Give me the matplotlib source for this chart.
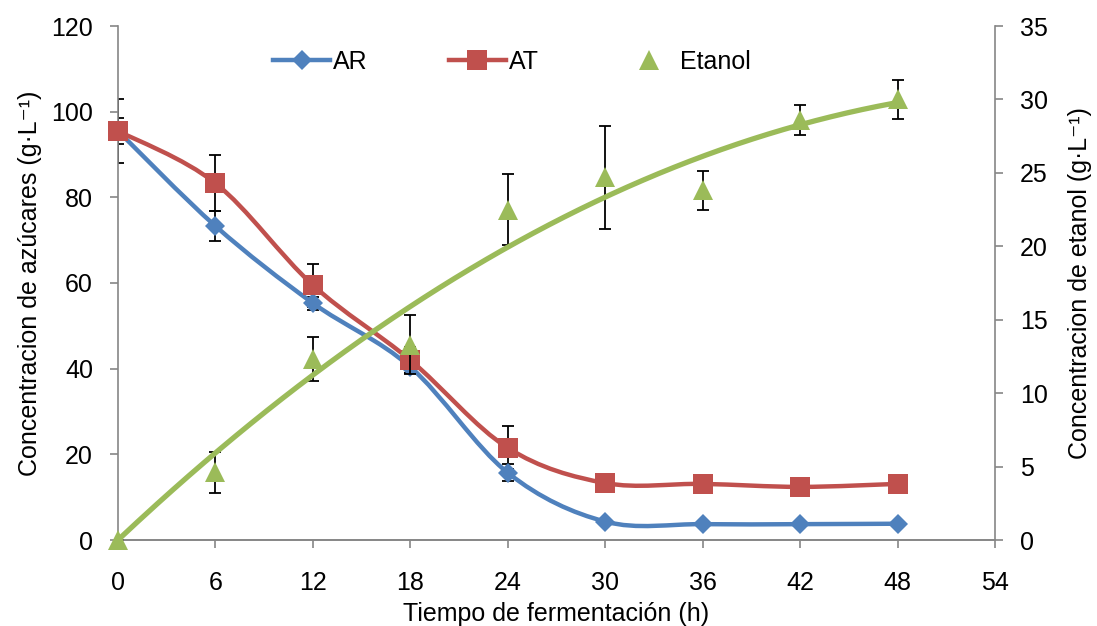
import matplotlib.pyplot as plt
import numpy as np
from matplotlib.lines import Line2D
from matplotlib.path import Path
from matplotlib.patches import PathPatch

plt.rcParams["font.family"] = ["Liberation Sans", "DejaVu Sans"]

# fermentation time (h)
tiempo = [0, 6, 12, 18, 24, 30, 36, 42, 48]

# reducing sugars and total sugars (g/L)
ar = [95.5, 73.3, 55.3, 40.4, 15.7, 4.3, 3.7, 3.7, 3.8]
ar_err = [3.0, 3.6, 1.5, 1.5, 2.0, 0.4, 0.3, 0.3, 0.3]
at = [95.5, 83.3, 59.5, 42.0, 21.5, 13.3, 13.1, 12.4, 13.1]
at_err = [7.4, 6.6, 5.0, 3.0, 5.0, 0.5, 0.5, 0.5, 0.5]

# ethanol (g/L)
etanol = [0.0, 4.6, 12.3, 13.3, 22.5, 24.7, 23.8, 28.6, 30.0]
etanol_err = [0.0, 1.4, 1.5, 2.0, 2.4, 3.5, 1.3, 1.05, 1.35]

BLUE = "#4F81BD"
RED = "#C0504D"
GREEN = "#9BBB59"
AXIS_GREY = "#868686"
FS = 18


def smooth_path(x, y):
    """Cubic Bezier path through the points (spreadsheet-style smoothed line)."""
    pts = np.column_stack([x, y]).astype(float)
    n = len(pts)
    verts = [pts[0]]
    codes = [Path.MOVETO]
    for i in range(n - 1):
        p0 = pts[max(i - 1, 0)]
        p1 = pts[i]
        p2 = pts[i + 1]
        p3 = pts[min(i + 2, n - 1)]
        c1 = p1 + (p2 - p0) / 6.0
        c2 = p2 - (p3 - p1) / 6.0
        verts += [c1, c2, p2]
        codes += [Path.CURVE4] * 3
    return Path(verts, codes)


fig, ax = plt.subplots(figsize=(10.97, 6.26), dpi=100)
fig.subplots_adjust(left=118 / 1097, right=995 / 1097, bottom=1 - 540 / 626, top=1 - 26 / 626)
ax2 = ax.twinx()

# sugars on the left axis
for vals, errs, color, marker, ms in [(ar, ar_err, BLUE, "D", 10.5), (at, at_err, RED, "s", 14.5)]:
    ax.errorbar(tiempo, vals, yerr=errs, fmt="none", ecolor="black", elinewidth=1.3,
                capsize=4.5, capthick=1.3, zorder=2)
    ax.add_patch(PathPatch(smooth_path(tiempo, vals), facecolor="none", edgecolor=color,
                           linewidth=3.2, capstyle="round", zorder=3))
    ax.plot(tiempo, vals, linestyle="none", marker=marker, markersize=ms, color=color,
            markeredgewidth=0, zorder=4, clip_on=False)

# ethanol on the right axis with a quadratic trend through the origin
t_arr = np.array(tiempo, dtype=float)
e_arr = np.array(etanol, dtype=float)
design = np.column_stack([t_arr, t_arr ** 2])
coef, *_ = np.linalg.lstsq(design, e_arr, rcond=None)
t_fit = np.linspace(0, 48, 200)
ax2.plot(t_fit, coef[0] * t_fit + coef[1] * t_fit ** 2, color=GREEN, linewidth=3.8,
         solid_capstyle="butt", zorder=3)
ax2.errorbar(tiempo, etanol, yerr=etanol_err, fmt="none", ecolor="black", elinewidth=1.3,
             capsize=4.5, capthick=1.3, zorder=2)
ax2.plot(tiempo, etanol, linestyle="none", marker="^", markersize=15, color=GREEN,
         markeredgewidth=0, zorder=4, clip_on=False)

ax.set_xlim(0, 54)
ax.set_ylim(0, 120)
ax2.set_ylim(0, 35)
ax.set_xticks(np.arange(0, 55, 6))
ax.set_yticks(np.arange(0, 121, 20))
ax2.set_yticks(np.arange(0, 36, 5))

for a in (ax, ax2):
    a.spines["top"].set_visible(False)
    for side in ("left", "right", "bottom"):
        a.spines[side].set_color(AXIS_GREY)
        a.spines[side].set_linewidth(1.2)
    a.tick_params(colors=AXIS_GREY, labelcolor="black", labelsize=FS, length=6, width=1.2,
                  direction="out")
ax.spines["right"].set_visible(False)
ax2.spines["left"].set_visible(False)
ax.tick_params(axis="y", pad=12)
ax.tick_params(axis="x", pad=16)
ax2.tick_params(axis="y", pad=12)

ax.set_xlabel("Tiempo de fermentación (h)", fontsize=FS)
ax.set_ylabel("Concentracion de azúcares (g·L⁻¹)", fontsize=FS)
ax2.set_ylabel("Concentracion de etanol (g·L⁻¹)", fontsize=FS)
ax.xaxis.set_label_coords(0.5, -0.12)
ax.yaxis.set_label_coords(-0.087, 0.5)
ax2.yaxis.set_label_coords(1.083, 0.5)

handles = [
    Line2D([], [], color=BLUE, linewidth=3.2, marker="D", markersize=10.5, markeredgewidth=0),
    Line2D([], [], color=RED, linewidth=3.2, marker="s", markersize=14.5, markeredgewidth=0),
    Line2D([], [], color=GREEN, linestyle="none", marker="^", markersize=15, markeredgewidth=0),
]
fig.legend(handles, ["AR", "AT", "Etanol"], loc="center left",
           bbox_to_anchor=(273 / 1097, 1 - 62 / 626), ncol=3, frameon=False, fontsize=FS,
           handlelength=2.28, handletextpad=0.12, columnspacing=3.25, borderpad=0, borderaxespad=0)

fig.savefig("out.png", dpi=100)
